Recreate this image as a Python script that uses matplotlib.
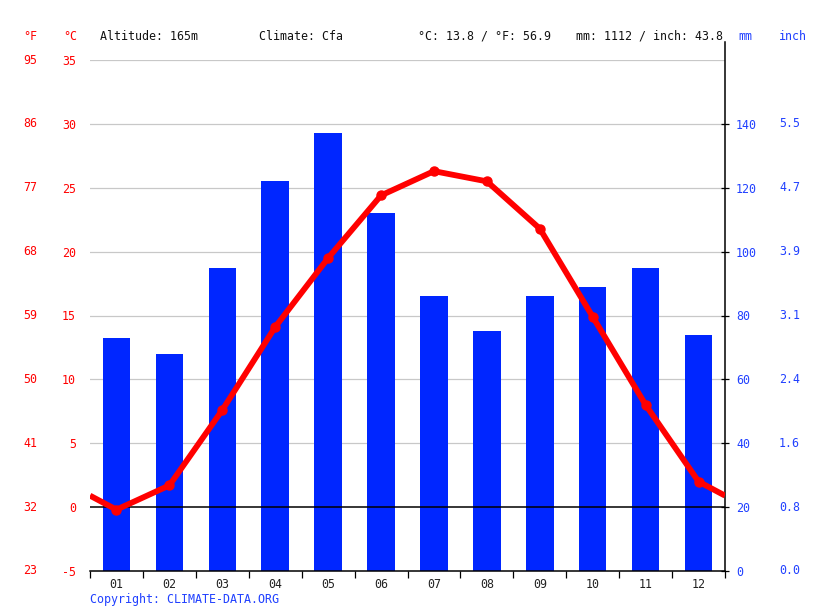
import matplotlib
matplotlib.use("Agg")
import matplotlib.pyplot as plt
import matplotlib.transforms as mtransforms

months = ["01", "02", "03", "04", "05", "06", "07", "08", "09", "10", "11", "12"]
precip_mm = [73, 68, 95, 122, 137, 112, 86, 75, 86, 89, 95, 74]
temp_c = [-0.2, 1.7, 7.6, 14.1, 19.5, 24.4, 26.3, 25.5, 21.8, 14.9, 8.0, 2.0]
c_ticks = [-5, 0, 5, 10, 15, 20, 25, 30, 35]
f_labels = ["23", "32", "41", "50", "59", "68", "77", "86", "95"]
mm_ticks = [0, 20, 40, 60, 80, 100, 120, 140]
inch_labels = ["0.0", "0.8", "1.6", "2.4", "3.1", "3.9", "4.7", "5.5"]
header = [("Altitude: 165m", 100), ("Climate: Cfa", 259),
          ("°C: 13.8 / °F: 56.9", 418), ("mm: 1112 / inch: 43.8", 576)]

RED = "#ff0000"
BLUE_BAR = "#0026ff"
BLUE_TXT = "#2040ff"
FONT = "DejaVu Sans Mono"
FS = 8.4
plt.rcParams['font.family'] = FONT

W, H = 815, 611
fig = plt.figure(figsize=(W / 100, H / 100), dpi=100)
L, R, T, B = 90, 725, 60, 571
ax = fig.add_axes([L / W, 1 - B / H, (R - L) / W, (B - T) / H])
ax2 = ax.twinx()

ax.set_xlim(0, 12)
ax.set_ylim(0, 160)
ax2.set_ylim(-5, 35)

# grid lines (temperature levels) behind bars, drawn in precipitation axis
for c in c_ticks[1:]:
    if c != 0:
        ax.axhline(20 + 4 * c, color="#c8c8c8", lw=0.9, zorder=0)

xs = [i + 0.5 for i in range(12)]
ax.bar(xs, precip_mm, width=0.52, color=BLUE_BAR, zorder=2)

ax2.axhline(0, color="black", lw=1.1, zorder=1)
edge = (temp_c[0] + temp_c[-1]) / 2
ax2.plot([0] + xs + [12], [edge] + temp_c + [edge], color=RED, lw=4.2,
         solid_capstyle="butt", zorder=3)
ax2.plot(xs, temp_c, "o", color=RED, ms=6.5, zorder=4)

for a in (ax, ax2):
    a.spines["top"].set_visible(False)
    a.spines["left"].set_visible(False)
    a.spines["right"].set_visible(False)
    a.patch.set_visible(False)
ax.spines["bottom"].set_color("black")
ax.spines["bottom"].set_linewidth(1.1)
ax2.spines["bottom"].set_visible(False)

# x ticks
ax.set_xticks(range(13))
ax.set_xticklabels([])
ax.tick_params(axis="x", which="major", length=5, width=0.9, direction="out", color="black")
ax.set_xticks(xs, minor=True)
ax.set_xticklabels(months, minor=True, fontsize=FS, color="#222222")
ax.tick_params(axis="x", which="minor", length=0, pad=5)

# right spine (mm) extended above
ax.plot([1, 1], [0, (B - 42) / (B - T)], transform=ax.transAxes, color="black",
        lw=1.1, clip_on=False, zorder=5)

ax.yaxis.tick_right()
ax.set_yticks(mm_ticks)
ax.set_yticklabels([str(v) for v in mm_ticks], fontsize=FS, color=BLUE_TXT)
ax.tick_params(axis="y", length=6, width=0.9, direction="inout", pad=5, color="black")
for lab in ax.get_yticklabels():
    lab.set_horizontalalignment("left")

ax2.yaxis.tick_left()
ax2.set_yticks(c_ticks)
ax2.set_yticklabels([str(v) for v in c_ticks], fontsize=FS, color=RED)
ax2.tick_params(axis="y", length=0, pad=10)

# °F labels
tF = mtransforms.blended_transform_factory(fig.transFigure, ax2.transData)
for c, lab in zip(c_ticks, f_labels):
    fig.text(37 / W, c, lab, transform=tF, ha="right", va="center",
             fontsize=FS, color=RED)

# inch labels
tI = mtransforms.blended_transform_factory(fig.transFigure, ax.transData)
for m, lab in zip(mm_ticks, inch_labels):
    fig.text(779 / W, m, lab, transform=tI, ha="left", va="center",
             fontsize=FS, color=BLUE_TXT)

# headers
hy = 1 - 36 / H
fig.text(37 / W, hy, "°F", ha="right", va="center", fontsize=FS, color=RED)
fig.text(77 / W, hy, "°C", ha="right", va="center", fontsize=FS, color=RED)
fig.text(738 / W, hy, "mm", ha="left", va="center", fontsize=FS, color=BLUE_TXT)
fig.text(779 / W, hy, "inch", ha="left", va="center", fontsize=FS, color=BLUE_TXT)
for txt, x in header:
    fig.text(x / W, hy, txt, ha="left", va="center", fontsize=FS, color="#111111")

fig.text(90 / W, 1 - 599 / H, "Copyright: CLIMATE-DATA.ORG", ha="left", va="center",
         fontsize=FS, color=BLUE_TXT)

fig.savefig("out.png", dpi=100, facecolor="white")
